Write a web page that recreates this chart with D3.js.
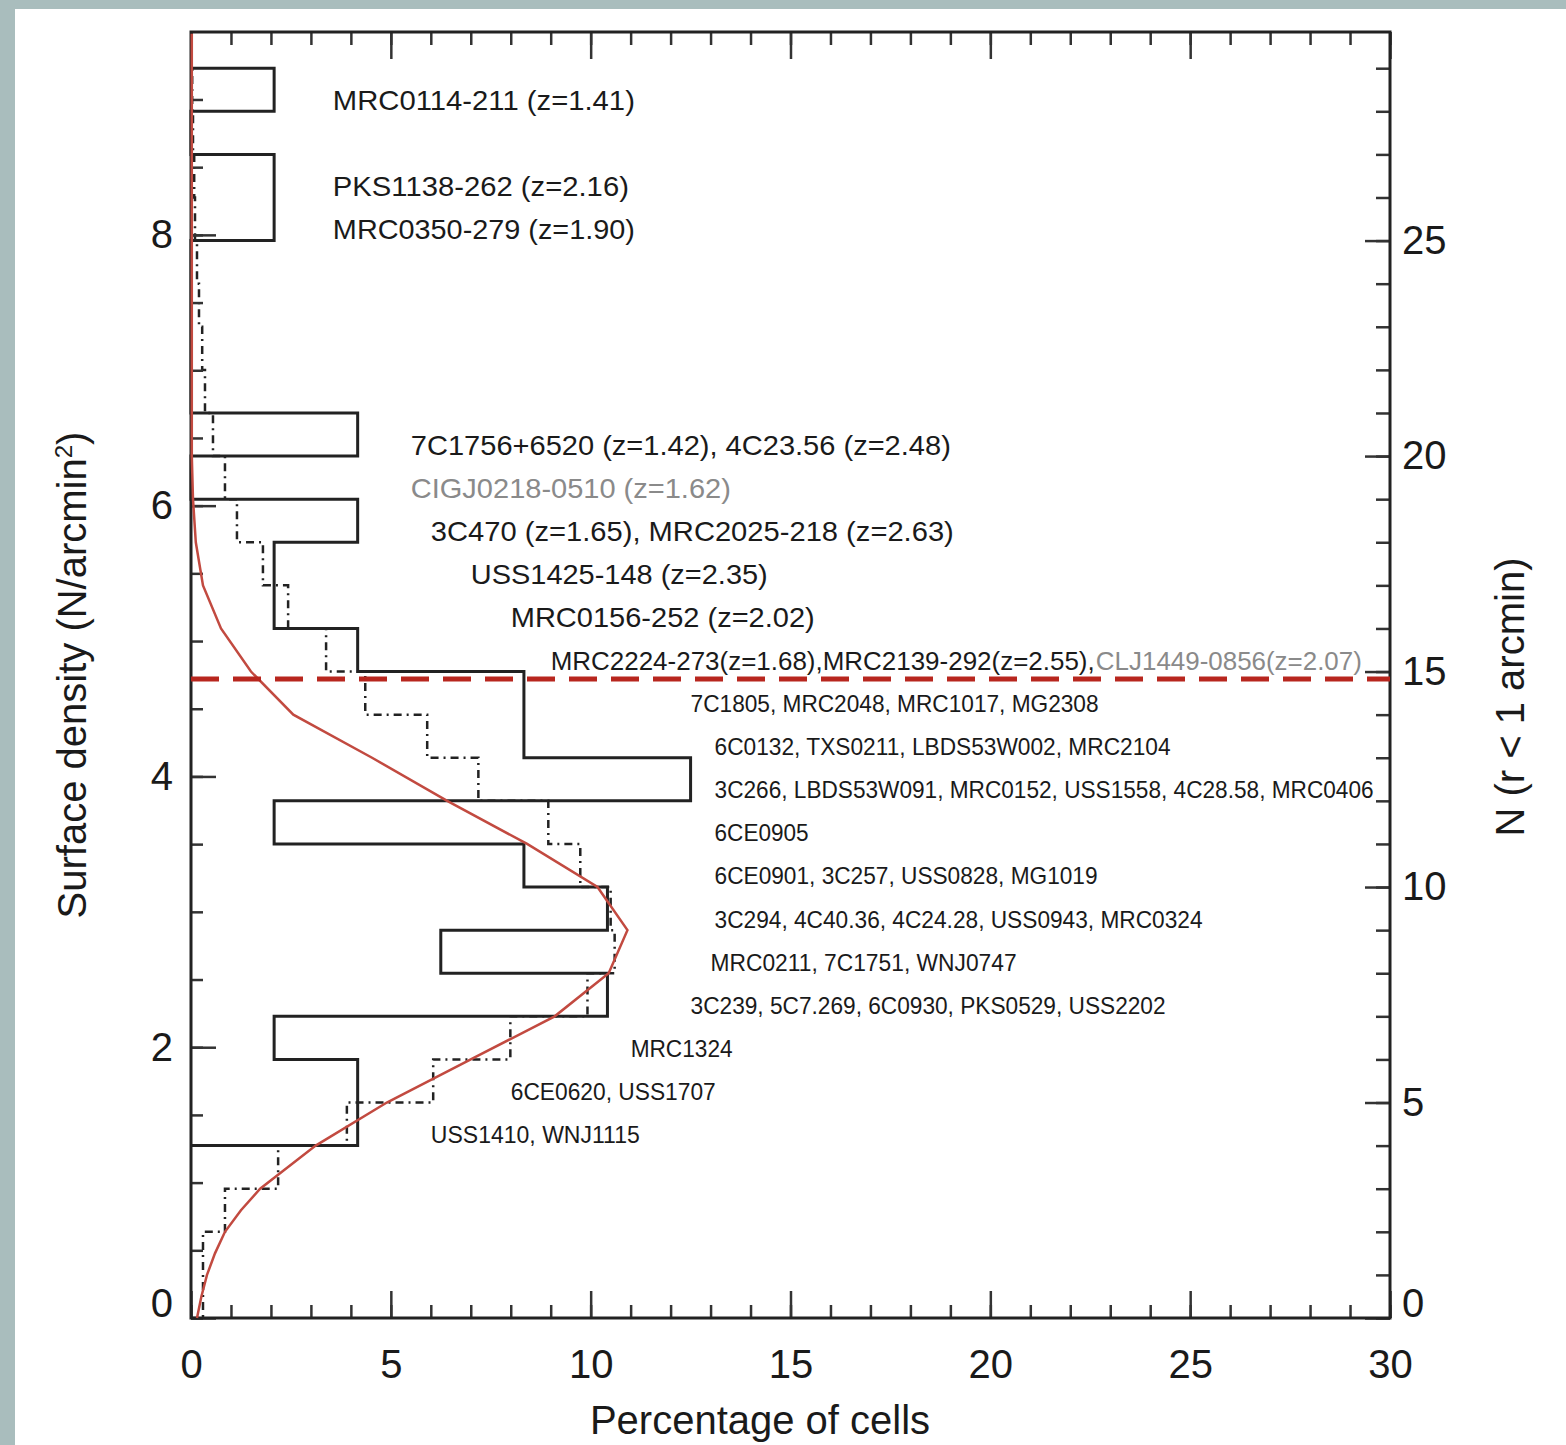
<!DOCTYPE html>
<html>
<head>
<meta charset="utf-8">
<script src="https://cdn.jsdelivr.net/npm/d3@7"></script>
<style>
  body { margin: 0; background: #fff; }
  text { font-family: "Liberation Sans", Arial, Helvetica, sans-serif; }
</style>
</head>
<body>
<svg id="chart" width="1566" height="1445"></svg>
<script>
// radio galaxy fields: N bin lower edge (r < 1 arcmin) and percentage of fields
const hzrgBins = [4, 5, 6, 7, 8, 9, 10, 11, 12, 13, 14, 15, 16, 17, 18, 19, 20, 21, 22, 23, 24, 25, 26, 27, 28];
const hzrgPct = [4.17, 4.17, 2.08, 10.42, 6.25, 10.42, 8.33, 2.08, 12.5, 8.33, 8.33, 4.17, 2.08, 2.08, 4.17, 0, 4.17, 0, 0, 0, 0, 2.08, 2.08, 0, 2.08];

// random cells, same bins
const cellBins = [0, 1, 2, 3, 4, 5, 6, 7, 8, 9, 10, 11, 12, 13, 14, 15, 16, 17, 18, 19, 20, 21, 22, 23, 24, 25, 26, 27, 28];
const cellPct = [0.3, 0.3, 0.85, 2.18, 3.9, 6.06, 7.99, 9.92, 10.6, 10.5, 9.74, 8.94, 7.19, 5.91, 4.36, 3.38, 2.43, 1.8, 1.15, 0.85, 0.55, 0.35, 0.28, 0.2, 0.15, 0.1, 0.08, 0.05, 0.03];

// model curve (red)
const modelN = [0, 0.5, 1, 1.5, 2, 2.5, 3, 4, 5, 6, 7, 8, 9, 10, 11, 12, 13, 14, 15, 16, 17, 18, 19, 20, 29.8];
const modelPct = [0.15, 0.26, 0.4, 0.6, 0.85, 1.25, 1.73, 3.12, 4.9, 7.0, 9.1, 10.45, 10.92, 10.17, 8.41, 6.41, 4.53, 2.56, 1.5, 0.75, 0.3, 0.12, 0.05, 0.02, 0.02];

const thresholdN = 14.83;

const xTicks = [0, 5, 10, 15, 20, 25, 30];
const densityTicks = [0, 2, 4, 6, 8];
const nTicks = [0, 5, 10, 15, 20, 25];

// annotations: text, N bin, x position (%), style
const labels = [
  { t: "MRC0114-211 (z=1.41)", n: 28, x: 3.55, w: 302, big: true },
  { t: "PKS1138-262 (z=2.16)", n: 26, x: 3.55, w: 296, big: true },
  { t: "MRC0350-279 (z=1.90)", n: 25, x: 3.55, w: 302, big: true },
  { t: "7C1756+6520 (z=1.42), 4C23.56 (z=2.48)", n: 20, x: 5.5, w: 540, big: true },
  { t: "CIGJ0218-0510 (z=1.62)", n: 19, x: 5.5, w: 320, big: true, grey: true },
  { t: "3C470 (z=1.65), MRC2025-218 (z=2.63)", n: 18, x: 6.0, w: 523, big: true },
  { t: "USS1425-148 (z=2.35)", n: 17, x: 7.0, w: 297, big: true },
  { t: "MRC0156-252 (z=2.02)", n: 16, x: 8.0, w: 304, big: true },
  { t: "MRC2224-273(z=1.68),MRC2139-292(z=2.55),", n: 15, x: 9.0, w: 544, mid: true },
  { t: "CLJ1449-0856(z=2.07)", n: 15, x: 22.64, w: 266, mid: true, grey: true },
  { t: "7C1805, MRC2048, MRC1017, MG2308", n: 14, x: 12.5, w: 408 },
  { t: "6C0132, TXS0211, LBDS53W002, MRC2104", n: 13, x: 13.1, w: 456 },
  { t: "3C266, LBDS53W091, MRC0152, USS1558, 4C28.58, MRC0406", n: 12, x: 13.1, w: 659 },
  { t: "6CE0905", n: 11, x: 13.1, w: 94 },
  { t: "6CE0901, 3C257, USS0828, MG1019", n: 10, x: 13.1, w: 383 },
  { t: "3C294, 4C40.36, 4C24.28, USS0943, MRC0324", n: 9, x: 13.1, w: 488 },
  { t: "MRC0211, 7C1751, WNJ0747", n: 8, x: 13.0, w: 306 },
  { t: "3C239, 5C7.269, 6C0930, PKS0529, USS2202", n: 7, x: 12.5, w: 475 },
  { t: "MRC1324", n: 6, x: 11.0, w: 102 },
  { t: "6CE0620, USS1707", n: 5, x: 8.0, w: 205 },
  { t: "USS1410, WNJ1115", n: 4, x: 6.0, w: 209 },
];

const svg = d3.select("#chart");
const plotLeft = 191, plotRight = 1390, plotTop = 32, plotBottom = 1318;
const nMax = 29.84;

const x = d3.scaleLinear().domain([0, 30]).range([plotLeft, plotRight]);
const yN = d3.scaleLinear().domain([0, nMax]).range([plotBottom, plotTop]);
const yD = d3.scaleLinear().domain([0, nMax / Math.PI]).range([plotBottom, plotTop]);

// slide border
svg.append("rect").attr("width", 1566).attr("height", 1445).attr("fill", "#fff");
svg.append("rect").attr("width", 1566).attr("height", 9).attr("fill", "#a9bdbd");
svg.append("rect").attr("width", 15).attr("height", 1445).attr("fill", "#a9bdbd");

function stepPoints(bins, pct) {
  const pts = [[0, bins[0]]];
  bins.forEach((b, i) => {
    pts.push([pct[i], b]);
    pts.push([pct[i], b + 1]);
  });
  pts.push([0, bins[bins.length - 1] + 1]);
  return pts;
}

const stepLine = d3.line().x((d) => x(d[0])).y((d) => yN(d[1]));

svg.append("path")
  .attr("d", stepLine(stepPoints(cellBins, cellPct)))
  .attr("fill", "none")
  .attr("stroke", "#222")
  .attr("stroke-width", 2.5)
  .attr("stroke-dasharray", "8,5,2,5");

svg.append("path")
  .attr("d", stepLine(stepPoints(hzrgBins, hzrgPct)))
  .attr("fill", "none")
  .attr("stroke", "#222")
  .attr("stroke-width", 3);

// axes
function styleAxis(g) {
  g.select(".domain").remove();
  g.selectAll(".tick line").attr("stroke", "#333").attr("stroke-width", 2.5);
  g.selectAll(".tick text").attr("font-size", 40).attr("fill", "#1a1a1a")
    .attr("font-family", '"Liberation Sans", Arial, sans-serif');
}

svg.append("g").attr("transform", `translate(0,${plotBottom})`)
  .call(d3.axisBottom(x).tickValues(xTicks).tickSize(-27).tickPadding(32)).call(styleAxis);
svg.append("g").attr("transform", `translate(0,${plotBottom})`)
  .call(d3.axisBottom(x).ticks(30).tickSize(-13).tickFormat("")).call(styleAxis);
svg.append("g").attr("transform", `translate(0,${plotTop})`)
  .call(d3.axisTop(x).tickValues(xTicks).tickSize(-27).tickFormat("")).call(styleAxis);
svg.append("g").attr("transform", `translate(0,${plotTop})`)
  .call(d3.axisTop(x).ticks(30).tickSize(-13).tickFormat("")).call(styleAxis);

const leftAxis = svg.append("g").attr("transform", `translate(${plotLeft},0)`)
  .call(d3.axisLeft(yD).tickValues(densityTicks).tickSize(-25).tickPadding(18)).call(styleAxis);
svg.append("g").attr("transform", `translate(${plotLeft},0)`)
  .call(d3.axisLeft(yD).tickValues(d3.range(0, 9.5, 0.5)).tickSize(-12).tickFormat("")).call(styleAxis);

const rightAxis = svg.append("g").attr("transform", `translate(${plotRight},0)`)
  .call(d3.axisRight(yN).tickValues(nTicks).tickSize(-25).tickPadding(12)).call(styleAxis);
svg.append("g").attr("transform", `translate(${plotRight},0)`)
  .call(d3.axisRight(yN).tickValues(d3.range(0, 30, 1)).tickSize(-14).tickFormat("")).call(styleAxis);

// lift the zero labels clear of the bottom axis
[leftAxis, rightAxis].forEach((g) =>
  g.selectAll(".tick text").filter((d) => d === 0).attr("dy", "-0.05em"));

svg.append("rect")
  .attr("x", plotLeft).attr("y", plotTop)
  .attr("width", plotRight - plotLeft).attr("height", plotBottom - plotTop)
  .attr("fill", "none").attr("stroke", "#222").attr("stroke-width", 3);

// model curve and threshold
svg.append("path")
  .attr("d", d3.line().x((d, i) => x(modelPct[i])).y((d) => yN(d))(modelN))
  .attr("fill", "none")
  .attr("stroke", "#c24a40")
  .attr("stroke-width", 2.5);

svg.append("line")
  .attr("x1", x(0)).attr("x2", x(30))
  .attr("y1", yN(thresholdN)).attr("y2", yN(thresholdN))
  .attr("stroke", "#b8261e")
  .attr("stroke-width", 5)
  .attr("stroke-dasharray", "28,14");

// annotations
svg.append("g").selectAll("text")
  .data(labels)
  .enter()
  .append("text")
  .attr("x", (d) => x(d.x))
  .attr("y", (d) => yN(d.n + 0.26))
  .attr("dy", "0.36em")
  .attr("font-size", (d) => (d.big ? 28 : d.mid ? 26 : 24))
  .attr("fill", (d) => (d.grey ? "#8a8a8a" : "#1a1a1a"))
  .attr("textLength", (d) => d.w)
  .attr("lengthAdjust", "spacingAndGlyphs")
  .text((d) => d.t);

// axis titles
svg.append("text")
  .attr("x", 760).attr("y", 1434)
  .attr("text-anchor", "middle")
  .attr("font-size", 40).attr("fill", "#1a1a1a")
  .text("Percentage of cells");

const yTitle = svg.append("text")
  .attr("transform", "translate(86,675) rotate(-90)")
  .attr("text-anchor", "middle")
  .attr("font-size", 40).attr("fill", "#1a1a1a");
yTitle.append("tspan").text("Surface density (N/arcmin");
yTitle.append("tspan").attr("font-size", 24).attr("baseline-shift", "60%").text("2");
yTitle.append("tspan").text(")");

svg.append("text")
  .attr("transform", "translate(1524,697) rotate(-90)")
  .attr("text-anchor", "middle")
  .attr("font-size", 40).attr("fill", "#1a1a1a")
  .text("N (r < 1 arcmin)");
</script>
</body>
</html>
